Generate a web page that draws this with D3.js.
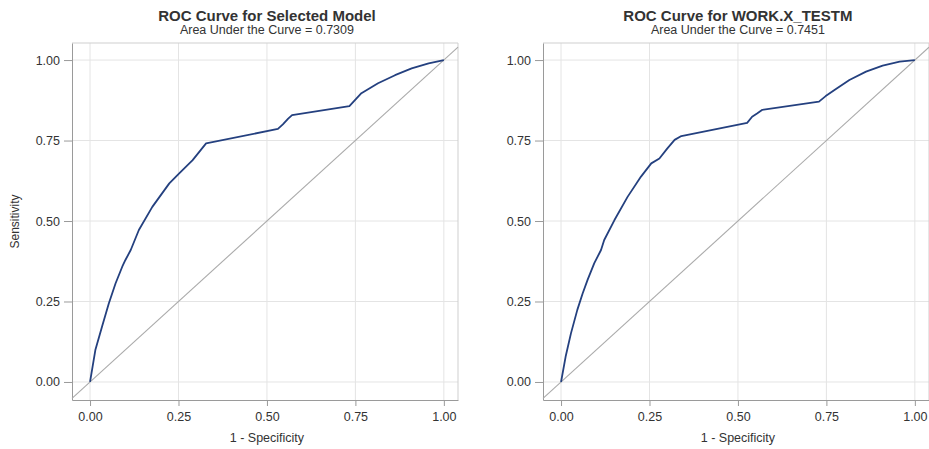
<!DOCTYPE html>
<html>
<head>
<meta charset="utf-8">
<script src="https://cdn.jsdelivr.net/npm/d3@7"></script>
<style>
  body { margin: 0; background: #fff; }
  text { font-family: "Liberation Sans", Arial, sans-serif; fill: #333; }
  .grid line { stroke: #e4e4e4; }
  .axis path, .axis line { stroke: #9a9a9a; }
</style>
</head>
<body>
<script>
// ROC points (1 - specificity, sensitivity)
var selectedFpr = [0, 0.015, 0.034, 0.053, 0.072, 0.091, 0.100, 0.115, 0.138, 0.176, 0.224, 0.252, 0.290, 0.328,
                   0.531, 0.545, 0.560, 0.571, 0.733, 0.767, 0.814, 0.862, 0.909, 0.957, 1];
var selectedTpr = [0, 0.099, 0.172, 0.244, 0.306, 0.358, 0.379, 0.410, 0.472, 0.544, 0.617, 0.648, 0.689, 0.741,
                   0.786, 0.800, 0.818, 0.829, 0.857, 0.897, 0.928, 0.953, 0.974, 0.990, 1];

var testFpr = [0, 0.013, 0.028, 0.046, 0.061, 0.075, 0.094, 0.113, 0.122, 0.151, 0.188, 0.226, 0.255, 0.278, 0.300,
               0.321, 0.340, 0.526, 0.540, 0.554, 0.568, 0.729, 0.748, 0.777, 0.815, 0.862, 0.909, 0.957, 1];
var testTpr = [0, 0.079, 0.151, 0.224, 0.275, 0.317, 0.369, 0.410, 0.441, 0.503, 0.575, 0.638, 0.679, 0.694, 0.725,
               0.752, 0.764, 0.805, 0.824, 0.834, 0.845, 0.871, 0.888, 0.910, 0.938, 0.964, 0.983, 0.995, 1];

var tickValues = [0, 0.25, 0.5, 0.75, 1];
var titles = ["ROC Curve for Selected Model", "ROC Curve for WORK.X_TESTM"];
var subtitles = ["Area Under the Curve = 0.7309", "Area Under the Curve = 0.7451"];

var svg = d3.select("body").append("svg")
    .attr("width", 929)
    .attr("height", 449);

var drawPanel = function(left, fpr, tpr, title, subtitle, showYLabel) {
    var frame = {left: left, right: left + 386, top: 43, bottom: 400};
    var dom = [-0.051, 1.04];

    var x = d3.scaleLinear().domain(dom).range([frame.left, frame.right]);
    var y = d3.scaleLinear().domain([-0.056, 1.053]).range([frame.bottom, frame.top]);

    var g = svg.append("g");

    // grid
    g.append("g").attr("class", "grid")
        .selectAll("line.v").data(tickValues).enter().append("line")
        .attr("x1", function(d) { return x(d); }).attr("x2", function(d) { return x(d); })
        .attr("y1", frame.top).attr("y2", frame.bottom);
    g.append("g").attr("class", "grid")
        .selectAll("line.h").data(tickValues).enter().append("line")
        .attr("y1", function(d) { return y(d); }).attr("y2", function(d) { return y(d); })
        .attr("x1", frame.left).attr("x2", frame.right);

    // frame top / right
    g.append("path")
        .attr("d", "M" + frame.left + "," + frame.top + "H" + frame.right + "V" + frame.bottom)
        .attr("fill", "none")
        .attr("stroke", "#cfcfcf");

    // axes
    g.append("g").attr("class", "axis")
        .attr("transform", "translate(0," + frame.bottom + ")")
        .call(d3.axisBottom(x).tickValues(tickValues).tickFormat(d3.format(".2f")).tickSize(6).tickPadding(6).tickSizeOuter(0))
        .selectAll("text").style("font-size", "12.5px").attr("fill", "#333");
    g.append("g").attr("class", "axis")
        .attr("transform", "translate(" + frame.left + ",0)")
        .call(d3.axisLeft(y).tickValues(tickValues).tickFormat(d3.format(".2f")).tickSize(8).tickPadding(4).tickSizeOuter(0))
        .selectAll("text").style("font-size", "12.5px").attr("fill", "#333");
    g.selectAll(".axis .domain").attr("stroke", "#9a9a9a");

    // reference diagonal
    g.append("line")
        .attr("x1", x(dom[0])).attr("y1", y(dom[0]))
        .attr("x2", x(dom[1])).attr("y2", y(dom[1]))
        .attr("stroke", "#aaaaaa")
        .attr("stroke-width", 1.1);

    // ROC curve
    var pts = fpr.map(function(d, i) { return [d, tpr[i]]; });
    var line = d3.line()
        .x(function(d) { return x(d[0]); })
        .y(function(d) { return y(d[1]); });
    g.append("path")
        .datum(pts)
        .attr("fill", "none")
        .attr("stroke", "#24407f")
        .attr("stroke-width", 1.8)
        .attr("stroke-linejoin", "round")
        .attr("d", line);

    // titles
    g.append("text")
        .attr("x", x(0.5)).attr("y", 21)
        .attr("text-anchor", "middle")
        .style("font-size", "15px").style("font-weight", "bold")
        .attr("fill", "#111")
        .text(title);
    g.append("text")
        .attr("x", x(0.5)).attr("y", 34)
        .attr("text-anchor", "middle")
        .style("font-size", "12.5px")
        .text(subtitle);

    g.append("text")
        .attr("x", x(0.5)).attr("y", 442)
        .attr("text-anchor", "middle")
        .style("font-size", "12.5px")
        .text("1 - Specificity");

    if (showYLabel) {
        g.append("text")
            .attr("transform", "translate(19," + ((frame.top + frame.bottom) / 2) + ") rotate(-90)")
            .attr("text-anchor", "middle")
            .style("font-size", "12px")
            .text("Sensitivity");
    }
}

drawPanel(72, selectedFpr, selectedTpr, titles[0], subtitles[0], true);
drawPanel(543, testFpr, testTpr, titles[1], subtitles[1], false);
</script>
</body>
</html>
